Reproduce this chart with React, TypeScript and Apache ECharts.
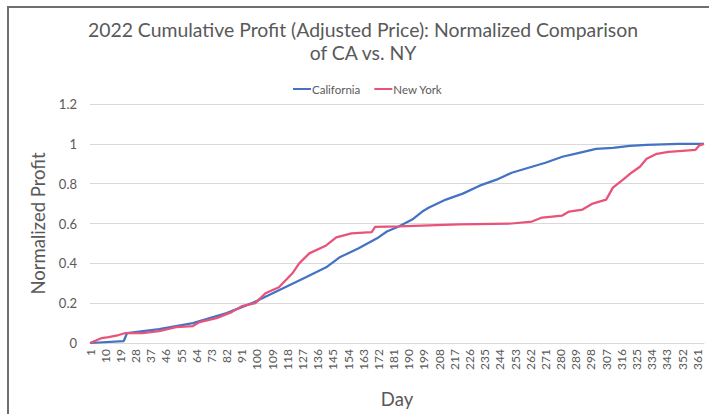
import React, { useEffect, useRef } from "react";
import * as echarts from "echarts";

const titleLines = ["2022 Cumulative Profit (Adjusted Price): Normalized Comparison", "of CA vs. NY"];
const days: string[] = Array.from({ length: 365 }, (_, i) => String(i + 1));

const caDays = [1, 21, 23, 42, 62, 82, 97, 113, 129, 141, 149, 160, 172, 177, 184, 192, 198, 202, 212, 222, 232, 242, 251, 261, 271, 281, 291, 301, 311, 321, 331, 350, 365];
const caVals = [0, 0.01, 0.05, 0.07, 0.1, 0.15, 0.2, 0.265, 0.33, 0.38, 0.43, 0.475, 0.53, 0.56, 0.585, 0.62, 0.66, 0.68, 0.72, 0.75, 0.79, 0.82, 0.855, 0.88, 0.905, 0.935, 0.955, 0.975, 0.98, 0.99, 0.995, 1.0, 1.0];

const nyDays = [1, 8, 12, 18, 22, 32, 42, 52, 62, 66, 76, 85, 91, 99, 105, 113, 121, 125, 131, 141, 147, 156, 168, 170, 184, 220, 251, 263, 269, 281, 285, 293, 299, 307, 311, 317, 322, 327, 331, 337, 344, 360, 362, 365];
const nyVals = [0, 0.025, 0.03, 0.04, 0.05, 0.05, 0.06, 0.08, 0.085, 0.105, 0.125, 0.155, 0.185, 0.2, 0.25, 0.28, 0.35, 0.4, 0.45, 0.49, 0.53, 0.55, 0.557, 0.583, 0.585, 0.595, 0.6, 0.61, 0.63, 0.64, 0.66, 0.67, 0.7, 0.72, 0.78, 0.82, 0.855, 0.885, 0.925, 0.95, 0.96, 0.97, 0.99, 1.0];

const FONT = "Lato, 'Open Sans', sans-serif";
const GRAY = "#595959";

export default function App() {
  const ref = useRef<HTMLDivElement>(null);
  useEffect(() => {
    document.body.style.margin = "0";
    if (!ref.current) return;
    const chart = echarts.init(ref.current, null, { renderer: "svg" });
    chart.setOption({
      animation: false,
      backgroundColor: "#ffffff",
      textStyle: { fontFamily: FONT },
      graphic: [
        {
          type: "rect",
          shape: { x: 8, y: 7, width: 720, height: 420 },
          style: { fill: "none", stroke: "#6e6e6e", lineWidth: 2 },
          silent: true,
        },
        {
          type: "text",
          x: 363,
          y: 18,
          style: {
            text: titleLines.join("\n"),
            fontFamily: FONT,
            fontSize: 19.4,
            lineHeight: 23,
            fill: GRAY,
            textAlign: "center",
          },
        },
      ],
      legend: {
        top: 78,
        left: 288,
        icon: "rect",
        itemWidth: 18,
        itemHeight: 2,
        itemGap: 14,
        textStyle: { fontSize: 11.5, color: GRAY, fontFamily: FONT, padding: [0, 0, 0, -4] },
        data: ["California", "New York"],
      },
      grid: { left: 90, right: 5, top: 104, bottom: 71, outerBoundsMode: "none", containLabel: false },
      xAxis: {
        type: "category",
        data: days,
        boundaryGap: false,
        name: "Day",
        nameLocation: "middle",
        nameGap: 46,
        nameMoveOverlap: false,
        nameTextStyle: { fontSize: 18.5, color: GRAY, fontFamily: FONT },
        axisLine: { lineStyle: { color: "#d9d9d9", width: 1 } },
        axisTick: { show: false },
        axisLabel: { interval: 8, rotate: 90, fontSize: 12, color: GRAY, margin: 6, fontFamily: FONT },
      },
      yAxis: {
        type: "value",
        min: 0,
        max: 1.2,
        interval: 0.2,
        name: "Normalized Profit",
        nameLocation: "middle",
        nameGap: 43,
        nameMoveOverlap: false,
        nameTextStyle: { fontSize: 18.5, color: GRAY, fontFamily: FONT },
        axisLine: { show: false },
        axisTick: { show: false },
        splitLine: { lineStyle: { color: "#d9d9d9", width: 1 } },
        axisLabel: {
          fontSize: 13,
          color: GRAY,
          margin: 13,
          fontFamily: FONT,
          formatter: (v: number) => String(Math.round(v * 10) / 10),
        },
      },
      series: [
        {
          name: "California",
          type: "line",
          symbol: "none",
          color: "#4472C4",
          lineStyle: { width: 2.25, color: "#4472C4" },
          data: caDays.map((d, i) => [d - 1, caVals[i]]),
        },
        {
          name: "New York",
          type: "line",
          symbol: "none",
          color: "#E8537A",
          lineStyle: { width: 2.25, color: "#E8537A" },
          data: nyDays.map((d, i) => [d - 1, nyVals[i]]),
        },
      ],
    });
    return () => chart.dispose();
  }, []);
  return <div ref={ref} style={{ width: 709, height: 414 }} />;
}
